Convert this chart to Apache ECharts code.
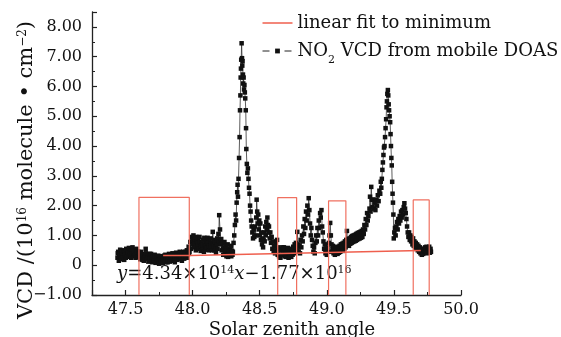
<!DOCTYPE html>
<html><head><meta charset="utf-8">
<script src="https://cdn.jsdelivr.net/npm/echarts@6/dist/echarts.min.js"></script>
<style>html,body{margin:0;padding:0;background:#fff}#c{width:561px;height:337px}</style>
</head><body><div id="c"></div>
<script>
// ---- data (x = solar zenith angle, y = VCD in 1e16 molecule/cm2)
const segBaseline1 = [[47.440,0.25],[47.445,0.45],[47.450,0.15],[47.455,0.38],[47.460,0.52],[47.465,0.22],[47.470,0.40],[47.478,0.30],[47.485,0.48],[47.490,0.18],[47.497,0.35],[47.505,0.55],[47.510,0.28],[47.518,0.42],[47.525,0.58],[47.530,0.32],[47.538,0.50],[47.545,0.38],[47.552,0.60],[47.558,0.30],[47.565,0.48],[47.572,0.35],[47.580,0.55],[47.588,0.28],[47.595,0.45],[47.602,0.40]];
const segBaseline2 = [[47.610,0.20],[47.615,0.45],[47.622,0.28],[47.630,0.38],[47.636,0.15],[47.643,0.35],[47.650,0.55],[47.656,0.22],[47.663,0.32],[47.670,0.12],[47.677,0.30],[47.684,0.20],[47.690,0.38],[47.697,0.10],[47.704,0.28],[47.710,0.18],[47.717,0.35],[47.724,0.08],[47.730,0.25],[47.737,0.15],[47.744,0.32],[47.750,0.05],[47.757,0.22],[47.764,0.12],[47.770,0.30],[47.777,0.08],[47.784,0.25],[47.790,0.15],[47.797,0.35],[47.804,0.10],[47.810,0.28],[47.817,0.18],[47.824,0.38],[47.830,0.12],[47.837,0.30],[47.844,0.20],[47.850,0.40],[47.857,0.15],[47.864,0.32],[47.870,0.22],[47.877,0.42],[47.884,0.18],[47.890,0.35],[47.897,0.25],[47.904,0.45],[47.910,0.20],[47.917,0.38],[47.924,0.28],[47.930,0.45],[47.937,0.22],[47.944,0.40],[47.950,0.30],[47.957,0.50],[47.964,0.35],[47.970,0.62],[47.976,0.45],[47.982,0.78]];
const segStep = [[47.988,0.55],[47.994,0.95],[48.000,0.70],[48.006,1.00],[48.012,0.60],[48.018,0.88],[48.024,0.50],[48.030,0.80],[48.036,0.62],[48.042,0.92],[48.048,0.55],[48.054,0.78],[48.060,0.48],[48.066,0.75],[48.072,0.58],[48.078,0.85],[48.084,0.45],[48.090,0.70],[48.096,0.52],[48.102,0.80],[48.108,0.60],[48.114,0.75],[48.120,0.50],[48.126,0.82],[48.132,0.58],[48.138,0.72],[48.144,0.50],[48.150,1.12],[48.156,0.65],[48.162,0.50],[48.168,0.78],[48.174,0.42],[48.180,0.70],[48.186,0.55],[48.192,1.05],[48.198,1.68],[48.204,1.20],[48.210,0.70],[48.216,0.50],[48.222,0.75],[48.228,0.35],[48.234,0.60],[48.240,0.40],[48.246,0.65],[48.252,0.30],[48.258,0.55],[48.264,0.28],[48.270,0.50],[48.276,0.35],[48.282,0.58],[48.288,0.30],[48.294,0.48]];
const segPeak1 = [[48.300,0.45],[48.305,0.75],[48.310,1.00],[48.315,1.35],[48.320,1.70],[48.324,1.50],[48.328,2.10],[48.332,2.45],[48.335,2.70],[48.338,2.30],[48.342,2.90],[48.346,3.60],[48.350,4.30],[48.353,5.20],[48.356,5.70],[48.358,6.30],[48.360,6.60],[48.362,6.90],[48.365,7.45],[48.368,6.95],[48.370,6.70],[48.372,6.85],[48.375,6.40],[48.377,6.10],[48.380,6.30],[48.383,5.90],[48.386,6.05],[48.389,5.80],[48.392,5.60],[48.396,5.20],[48.398,4.60],[48.400,3.90],[48.404,3.40],[48.408,3.10],[48.412,3.25],[48.416,2.90],[48.420,2.60],[48.424,2.40],[48.428,2.00],[48.432,1.80],[48.436,1.50],[48.440,1.30],[48.445,1.10],[48.450,0.90]];
const segAfter1 = [[48.455,1.20],[48.460,0.95],[48.465,1.30],[48.470,1.00],[48.474,1.60],[48.477,2.20],[48.481,1.80],[48.485,1.40],[48.489,1.70],[48.493,1.20],[48.497,1.50],[48.501,1.00],[48.505,1.40],[48.509,0.85],[48.513,1.10],[48.517,0.70],[48.521,0.90],[48.525,0.60],[48.529,0.85],[48.533,1.10],[48.537,0.80],[48.541,1.30],[48.545,1.00],[48.549,1.45],[48.553,1.20],[48.557,1.60],[48.561,1.35],[48.565,1.10],[48.569,1.30],[48.574,0.90],[48.579,1.10],[48.584,0.75],[48.589,0.95],[48.594,0.55],[48.599,0.80],[48.604,0.45],[48.609,0.65],[48.614,0.40],[48.619,0.75],[48.624,0.50],[48.629,0.85],[48.634,0.35],[48.639,0.60],[48.644,0.30],[48.649,0.55],[48.654,0.25],[48.659,0.50],[48.664,0.35],[48.669,0.60]];
const segMiddle = [[48.675,0.35],[48.680,0.60],[48.685,0.30],[48.690,0.55],[48.695,0.28],[48.700,0.50],[48.705,0.32],[48.710,0.58],[48.715,0.25],[48.720,0.45],[48.725,0.30],[48.730,0.55],[48.735,0.28],[48.740,0.50],[48.745,0.35],[48.750,0.62],[48.755,0.40],[48.760,0.70],[48.765,0.45],[48.770,0.75],[48.775,0.55],[48.780,1.12],[48.785,0.70],[48.790,0.45],[48.795,0.65],[48.800,0.40],[48.805,0.85],[48.810,0.60],[48.815,1.00],[48.820,0.80],[48.825,1.30],[48.830,1.05],[48.835,1.55],[48.840,1.25],[48.845,1.80],[48.850,1.50],[48.855,2.00],[48.860,1.70],[48.865,2.25],[48.870,1.85],[48.875,1.40],[48.880,1.00],[48.885,1.25],[48.890,0.85],[48.895,0.65],[48.900,0.45],[48.905,0.60],[48.910,0.40],[48.915,0.75],[48.920,1.00],[48.925,0.80],[48.930,1.25],[48.935,1.00],[48.940,1.50],[48.945,1.25],[48.950,1.75],[48.955,1.60],[48.960,1.85],[48.965,1.30],[48.970,1.10],[48.975,0.80],[48.980,0.55],[48.985,0.70],[48.990,0.40],[48.995,0.55],[49.000,0.35],[49.005,0.60],[49.010,0.45],[49.015,0.75],[49.020,1.00],[49.025,1.42],[49.030,1.00],[49.035,0.70],[49.040,0.45],[49.045,0.65],[49.050,0.40],[49.055,0.60],[49.060,0.35],[49.065,0.55],[49.070,0.40],[49.075,0.62],[49.080,0.38],[49.085,0.60],[49.090,0.42],[49.095,0.65],[49.100,0.45],[49.105,0.70],[49.110,0.50],[49.115,0.72],[49.120,0.48],[49.125,0.75],[49.130,0.55],[49.135,0.80],[49.140,0.60],[49.145,0.85]];
const segRise = [[49.150,1.15],[49.155,0.70],[49.160,0.88],[49.165,0.65],[49.170,0.90],[49.175,0.72],[49.180,0.95],[49.185,0.75],[49.190,0.98],[49.195,0.78],[49.200,1.00],[49.205,0.80],[49.210,1.02],[49.215,0.82],[49.220,1.05],[49.225,0.85],[49.230,1.08],[49.235,0.88],[49.240,1.10],[49.245,0.90],[49.250,1.12],[49.255,0.92],[49.260,1.15],[49.265,0.95],[49.270,1.20],[49.275,1.05],[49.280,1.35],[49.285,1.20],[49.290,1.55],[49.295,1.35],[49.300,1.75],[49.305,1.50]];
const segPeak2 = [[49.310,1.65],[49.318,1.90],[49.322,2.30],[49.326,1.80],[49.331,2.63],[49.336,2.20],[49.340,1.95],[49.345,2.20],[49.350,1.90],[49.356,2.10],[49.362,1.85],[49.368,2.20],[49.374,2.00],[49.380,2.35],[49.386,2.15],[49.392,2.50],[49.398,2.40],[49.402,2.80],[49.406,2.60],[49.410,2.90],[49.414,3.20],[49.418,3.45],[49.422,3.70],[49.426,3.95],[49.430,4.00],[49.434,4.30],[49.438,4.60],[49.442,4.90],[49.445,5.30],[49.448,5.50],[49.451,5.75],[49.455,5.88],[49.458,5.70],[49.461,5.40],[49.464,5.20],[49.468,5.00],[49.472,4.80],[49.475,4.40],[49.478,4.00],[49.481,3.60],[49.484,3.35],[49.487,2.80],[49.490,2.40],[49.493,2.10],[49.496,1.70],[49.499,0.90]];
const segTail = [[49.503,1.10],[49.508,1.25],[49.513,1.00],[49.518,1.30],[49.523,1.45],[49.528,1.20],[49.533,1.55],[49.538,1.40],[49.543,1.65],[49.548,1.50],[49.553,1.80],[49.558,1.60],[49.563,1.85],[49.568,1.70],[49.573,1.95],[49.578,2.08],[49.583,1.90],[49.588,1.75],[49.593,1.55],[49.598,1.30],[49.603,1.10],[49.608,0.95],[49.613,1.10],[49.618,0.85],[49.623,1.00],[49.628,0.80],[49.633,0.95],[49.638,0.70],[49.643,0.90],[49.648,0.65],[49.653,0.80],[49.658,0.60],[49.663,0.75],[49.668,0.55],[49.673,0.70],[49.678,0.50],[49.683,0.65],[49.688,0.45],[49.693,0.60],[49.698,0.40],[49.703,0.55],[49.708,0.35],[49.713,0.50],[49.718,0.38],[49.723,0.55],[49.728,0.42],[49.733,0.60],[49.738,0.45],[49.743,0.62],[49.748,0.40],[49.753,0.58],[49.758,0.45],[49.763,0.62],[49.768,0.42],[49.773,0.55]];
// extra readings inside the dense noisy bands
const segDenseBand = [[47.442,0.40],[47.452,0.30],[47.462,0.20],[47.474,0.50],[47.482,0.25],[47.494,0.45],[47.502,0.25],[47.514,0.48],[47.522,0.30],[47.534,0.45],[47.542,0.25],[47.548,0.52],[47.562,0.40],[47.575,0.25],[47.585,0.45],[47.598,0.30],
  [47.612,0.35],[47.626,0.18],[47.640,0.28],[47.653,0.40],[47.667,0.25],[47.680,0.38],[47.694,0.25],[47.707,0.15],[47.720,0.30],[47.734,0.22],[47.747,0.18],[47.760,0.30],[47.774,0.20],[47.787,0.32],[47.800,0.22],[47.814,0.10],[47.827,0.25],[47.840,0.32],[47.854,0.25],[47.867,0.10],[47.880,0.30],[47.894,0.40],[47.907,0.30],[47.920,0.15],[47.934,0.32],[47.947,0.45],[47.960,0.25],[47.973,0.40],
  [47.991,0.80],[48.003,0.85],[48.015,0.75],[48.027,0.95],[48.039,0.75],[48.051,0.95],[48.063,0.65],[48.075,0.68],[48.087,0.92],[48.099,0.65],[48.111,0.92],[48.123,0.65],[48.135,0.90],[48.147,0.75],[48.159,0.85],[48.171,0.62],[48.183,0.90],[48.195,0.80],[48.213,0.88],[48.225,0.55],[48.237,0.78],[48.249,0.50],[48.261,0.70],[48.273,0.45],[48.285,0.65],[48.297,0.35],
  [48.677,0.50],[48.687,0.45],[48.697,0.42],[48.707,0.45],[48.717,0.40],[48.727,0.42],[48.737,0.45],[48.747,0.50],[48.757,0.55],[48.767,0.60],[48.992,0.50],[49.002,0.48],[49.042,0.55],[49.052,0.50],[49.062,0.48],[49.072,0.50],[49.082,0.50],[49.092,0.55],[49.102,0.58],[49.112,0.62],[49.122,0.62],[49.132,0.68],[49.142,0.72],
  [49.152,0.80],[49.167,0.80],[49.182,0.85],[49.197,0.92],[49.212,0.92],[49.227,0.98],[49.242,1.00],[49.257,1.02],[49.272,1.10],
  [49.690,0.52],[49.700,0.48],[49.710,0.42],[49.720,0.48],[49.730,0.50],[49.740,0.55],[49.750,0.50],[49.760,0.52],[49.770,0.48],[49.776,0.45]];

// linear fit to minimum (as drawn)
const fitX = [47.78, 47.98, 47.98, 49.70];
const fitY = [0.33, 0.33, 0.37, 0.49];

// red windows used for the minimum fit
const boxLeft  = [47.60, 48.634, 49.013, 49.644];
const boxRight = [47.975, 48.775, 49.142, 49.763];
const boxTop   = [2.28, 2.27, 2.16, 2.19];
const boxBottom = -1;

const FONT = 'DejaVu Serif';
const RED = '#ef5f4e';
const BOXRED = '#f07060';

const no2Data = [].concat(segBaseline1, segBaseline2, segStep, segPeak1, segAfter1, segMiddle, segRise, segPeak2, segTail, segDenseBand)
  .sort((a, b) => a[0] - b[0]);
const fitData = fitX.map((x, i) => [x, fitY[i]]);
const boxSeries = boxLeft.map((l, i) => ({
  type: 'line', name: 'window' + i, symbol: 'none', silent: true, z: 3,
  lineStyle: { color: BOXRED, width: 1.2 },
  data: [[l, boxBottom], [l, boxTop[i]], [boxRight[i], boxTop[i]], [boxRight[i], boxBottom]]
}));

const chart = echarts.init(document.getElementById('c'));
const axisColor = '#222';
chart.setOption({
  animation: false,
  backgroundColor: '#fff',
  grid: { left: 92, right: 100, top: 12, bottom: 42 },
  legend: {
    data: [
      { name: 'linear fit to minimum', icon: 'path://M0,0H30V1.5H0Z' },
      { name: 'NO2 VCD from mobile DOAS', lineStyle: { type: [7, 15], width: 1, color: '#222' } }
    ],
    orient: 'vertical', left: 262, top: 13, padding: 0,
    itemWidth: 30, itemHeight: 6, itemGap: 8,
    formatter: name => name.replace('NO2', 'NO{sub|2}'),
    textStyle: {
      fontFamily: FONT, fontSize: 18, color: '#111', lineHeight: 20,
      rich: { sub: { fontFamily: FONT, fontSize: 11, color: '#111', padding: [18, 0, 0, 0] } }
    }
  },
  xAxis: {
    type: 'value', min: 47.25, max: 50, minInterval: 0.5, maxInterval: 0.5, splitNumber: 5,
    axisLine: { onZero: false, lineStyle: { color: axisColor, width: 1.3 } },
    axisTick: { inside: true, length: 5, lineStyle: { color: axisColor, width: 1.2 } },
    minorTick: { show: true, splitNumber: 2, length: 3, lineStyle: { color: axisColor, width: 1 } },
    splitLine: { show: false },
    axisLabel: {
      fontFamily: FONT, fontSize: 16, color: '#111', margin: 7,
      formatter: v => Math.abs(v * 2 - Math.round(v * 2)) < 1e-6 ? v.toFixed(1) : ''
    }
  },
  yAxis: {
    type: 'value', min: -1, max: 8.5, interval: 1,
    axisLine: { show: true, onZero: false, lineStyle: { color: axisColor, width: 1.3 } },
    axisTick: { show: true, inside: true, length: 5, lineStyle: { color: axisColor, width: 1.2 } },
    minorTick: { show: true, splitNumber: 2, length: 3, lineStyle: { color: axisColor, width: 1 } },
    splitLine: { show: false },
    axisLabel: {
      fontFamily: FONT, fontSize: 16, color: '#111', margin: 10,
      formatter: v => {
        if (Math.abs(v - Math.round(v)) > 1e-6) return '';
        if (Math.round(v) === 0) return '0';
        return (v < 0 ? '\u2212' : '') + Math.abs(v).toFixed(2);
      }
    }
  },
  graphic: [
    {
      type: 'text', x: 27, y: 170, rotation: Math.PI / 2,
      style: {
        text: 'VCD /(10{sup|16} molecule \u2022 cm{sup|\u22122})',
        fontFamily: FONT, fontSize: 21, fill: '#111', align: 'center', verticalAlign: 'middle',
        rich: { sup: { fontFamily: FONT, fontSize: 12, fill: '#111', verticalAlign: 'top' } }
      }
    },
    {
      type: 'text', x: 292, y: 330,
      style: { text: 'Solar zenith angle', fontFamily: FONT, fontSize: 18, fill: '#111', align: 'center', verticalAlign: 'middle' }
    },
    {
      type: 'text', x: 117, y: 274,
      style: {
        text: '{i|y}=4.34\u00d710{sup|14}{i|x}\u22121.77\u00d710{sup|16}',
        fontFamily: FONT, fontSize: 18, fill: '#111', align: 'left', verticalAlign: 'middle',
        rich: {
          i: { fontFamily: FONT, fontSize: 18, fontStyle: 'italic', fill: '#111' },
          sup: { fontFamily: FONT, fontSize: 11, fill: '#111', verticalAlign: 'top' }
        }
      }
    }
  ],
  series: [
    {
      type: 'line', name: 'NO2 VCD from mobile DOAS', data: no2Data, z: 2,
      symbol: 'rect', symbolSize: 4.5, showSymbol: true, showAllSymbol: true,
      itemStyle: { color: '#111' },
      lineStyle: { color: '#333', width: 0.8 }
    },
    ...boxSeries,
    {
      type: 'line', name: 'linear fit to minimum', data: fitData, z: 4,
      symbol: 'none', itemStyle: { color: RED },
      lineStyle: { color: RED, width: 1.5 }
    }
  ]
});
</script>
</body></html>
